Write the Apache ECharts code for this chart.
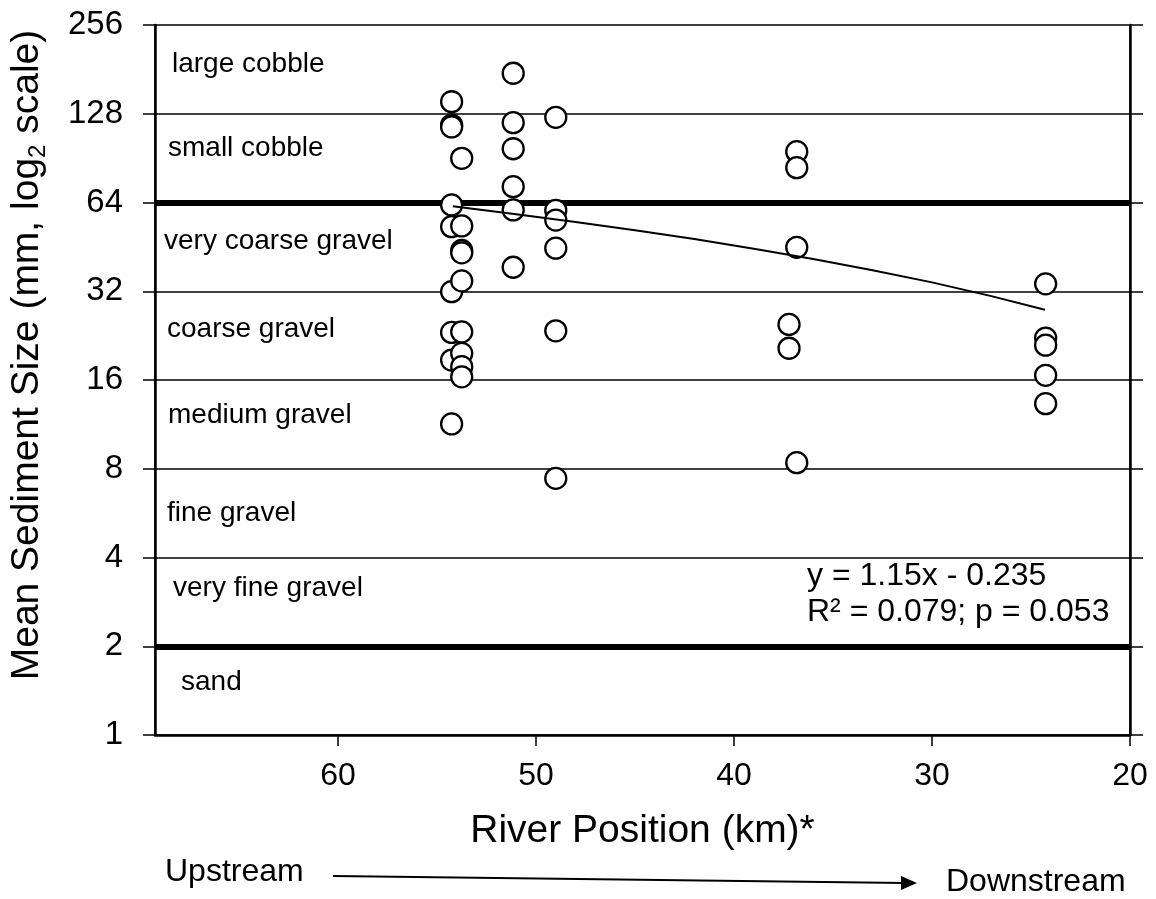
<!DOCTYPE html>
<html><head><meta charset="utf-8">
<script src="https://cdn.jsdelivr.net/npm/echarts@6/dist/echarts.min.js"></script>
<style>html,body{margin:0;padding:0;background:#fff}#c{width:1156px;height:899px}</style>
</head><body><div id="c"></div>
<script>
// ---- data ----
const pointKm = [
  54.26, 54.26, 54.26, 54.26, 54.26, 54.26, 54.26, 54.26, 54.26,
  53.75, 53.75, 53.75, 53.75, 53.75, 53.75, 53.75, 53.75, 53.75,
  51.15, 51.15, 51.15, 51.15, 51.15, 51.15,
  49.0, 49.0, 49.0, 49.0, 49.0, 49.0,
  36.83, 36.83, 36.83, 36.83, 37.22, 37.22,
  24.26, 24.26, 24.26, 24.26, 24.26
];
const pointMm = [
  140.6, 117.2, 115.5, 62.8, 53.0, 31.9, 23.2, 18.7, 11.35,
  90.4, 53.3, 44.0, 43.2, 34.7, 23.3, 19.7, 17.75, 16.4,
  175.6, 119.4, 97.4, 72.4, 60.4, 38.6,
  124.5, 60.2, 55.8, 44.8, 23.5, 7.42,
  95.2, 84.0, 45.1, 8.39, 24.7, 20.5,
  33.9, 22.2, 21.0, 16.6, 13.3
];
const trendKm = [54.2, 51, 48, 45, 42, 39, 36, 33, 30, 27, 24.3];
const trendMm = [62.1, 58.4, 55.0, 51.5, 48.1, 44.6, 41.2, 37.7, 34.3, 30.8, 27.7];
const yTickLabels = [1, 2, 4, 8, 16, 32, 64, 128, 256];
const xTickLabels = [60, 50, 40, 30, 20];
const thinLines = [4, 8, 16, 32, 128];
const thickLines = [2, 64];
const bandLabels = ['large cobble', 'small cobble', 'very coarse gravel', 'coarse gravel',
  'medium gravel', 'fine gravel', 'very fine gravel', 'sand'];
const equationLines = ['y = 1.15x - 0.235', 'R\u00B2 = 0.079; p = 0.053'];
const xTitle = 'River Position (km)*';
const yTitleParts = ['Mean Sediment Size (mm, log', '2', ' scale)'];
const flowLabels = ['Upstream', 'Downstream'];

// ---- layout ----
const FONT = '"Liberation Sans", Arial, sans-serif';
const bandLabelPos = [[172, 64], [168, 148], [164, 241], [167, 329], [168, 415], [167, 513], [173, 588], [181, 682]];

const chart = echarts.init(document.getElementById('c'), null, {renderer: 'canvas'});

const graphics = [];
bandLabels.forEach((t, i) => {
  graphics.push({type: 'text', x: bandLabelPos[i][0], y: bandLabelPos[i][1], z: 50,
    style: {text: t, font: '28px ' + FONT, fill: '#000', align: 'left', verticalAlign: 'middle'}});
});
graphics.push({type: 'text', x: 807, y: 576, z: 50,
  style: {text: equationLines[0], font: '32px ' + FONT, fill: '#000', align: 'left', verticalAlign: 'middle'}});
graphics.push({type: 'text', x: 807, y: 612, z: 50,
  style: {text: equationLines[1], font: '32px ' + FONT, fill: '#000', align: 'left', verticalAlign: 'middle'}});
// y axis title (rotated, with subscript)
graphics.push({type: 'text', x: 27, y: 355, rotation: Math.PI / 2, z: 50,
  style: {
    text: '{a|' + yTitleParts[0] + '}{s|' + yTitleParts[1] + '}{a|' + yTitleParts[2] + '}',
    align: 'center', verticalAlign: 'middle',
    rich: {
      a: {font: '39px ' + FONT, fill: '#000', lineHeight: 46, verticalAlign: 'middle'},
      s: {font: '24px ' + FONT, fill: '#000', lineHeight: 24, verticalAlign: 'bottom'}
    }
  }});
// upstream / downstream
graphics.push({type: 'text', x: 165, y: 872,
  style: {text: flowLabels[0], font: '32px ' + FONT, fill: '#000', align: 'left', verticalAlign: 'middle'}});
graphics.push({type: 'text', x: 946, y: 882,
  style: {text: flowLabels[1], font: '32px ' + FONT, fill: '#000', align: 'left', verticalAlign: 'middle'}});
graphics.push({type: 'line', shape: {x1: 333, y1: 876, x2: 905, y2: 883},
  style: {stroke: '#000', lineWidth: 2}});
graphics.push({type: 'polygon', shape: {points: [[917, 883], [901, 876], [901, 890]]},
  style: {fill: '#000'}});

const markData = [];
thinLines.forEach(v => markData.push({yAxis: v, lineStyle: {width: 1.5, color: '#000', type: 'solid'}}));
thickLines.forEach(v => markData.push({yAxis: v, lineStyle: {width: 6, color: '#000', type: 'solid'}}));

const option = {
  backgroundColor: '#fff',
  animation: false,
  grid: {left: 155, right: 26, top: 25, bottom: 164, show: true, borderColor: '#000', borderWidth: 1.5,
    containLabel: false, outerBoundsMode: 'none'},
  xAxis: {
    type: 'value', inverse: true, min: 20, max: 69.24, interval: 10,
    name: xTitle, nameLocation: 'middle', nameGap: 77,
    nameTextStyle: {fontFamily: FONT, fontSize: 39, color: '#000'},
    axisLine: {show: true, lineStyle: {color: '#000', width: 2.5}},
    axisTick: {show: true, inside: false, length: 11, customValues: xTickLabels, lineStyle: {color: '#000', width: 1.5}},
    axisLabel: {margin: 25, fontFamily: FONT, fontSize: 32, color: '#000', customValues: xTickLabels,
      formatter: v => (xTickLabels.indexOf(Math.round(v * 100) / 100) >= 0 ? String(v) : '')},
    splitLine: {show: false}
  },
  yAxis: [{
    type: 'log', logBase: 2, min: 1, max: 256, splitNumber: 8,
    axisLine: {show: true, lineStyle: {color: '#000', width: 2.5}},
    axisTick: {show: true, inside: false, length: 12, lineStyle: {color: '#000', width: 1.5}},
    axisLabel: {margin: 32, fontFamily: FONT, fontSize: 33, color: '#000',
      formatter: v => { const r = Math.round(v); return yTickLabels.indexOf(r) >= 0 ? String(r) : ''; }},
    splitLine: {show: false}, minorTick: {show: false}
  }, {
    type: 'log', logBase: 2, min: 1, max: 256, splitNumber: 8, position: 'right',
    axisLine: {show: true, lineStyle: {color: '#000', width: 2.5}},
    axisTick: {show: true, inside: false, length: 13, lineStyle: {color: '#000', width: 1.5}},
    axisLabel: {show: false}, splitLine: {show: false}
  }],
  graphic: graphics,
  series: [
    {
      type: 'line', data: [], silent: true, z: 1,
      markLine: {silent: true, symbol: ['none', 'none'], label: {show: false}, animation: false, data: markData}
    },
    {
      type: 'scatter', z: 5, symbol: 'circle', symbolSize: 21,
      itemStyle: {color: '#fff', borderColor: '#000', borderWidth: 2.3, opacity: 1},
      data: pointKm.map((k, i) => [k, pointMm[i]])
    },
    {
      type: 'line', z: 6, symbol: 'none', smooth: false, silent: true,
      lineStyle: {color: '#000', width: 2},
      data: trendKm.map((k, i) => [k, trendMm[i]])
    }
  ]
};
chart.setOption(option);
</script>
</body></html>
